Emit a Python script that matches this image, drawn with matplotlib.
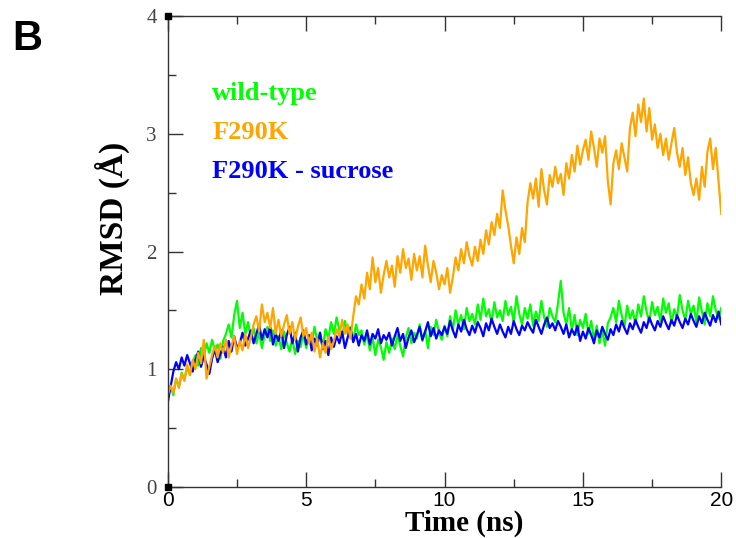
import numpy as np
import matplotlib
matplotlib.use("Agg")
import matplotlib.pyplot as plt
from matplotlib.ticker import MultipleLocator

# time axis, 0.1 ns steps
time_ns = np.round(np.arange(0, 201) * 0.1, 1)

wild_type = [
    0.80, 0.86, 0.78, 0.92, 0.85, 0.97, 0.91, 1.02, 0.95, 1.06,
    1.12, 1.03, 1.18, 1.10, 1.22, 1.14, 1.25, 1.16, 1.21, 1.09,
    1.24, 1.30, 1.38, 1.27, 1.46, 1.58, 1.35, 1.48, 1.30, 1.40,
    1.26, 1.35, 1.22, 1.31, 1.18, 1.29, 1.36, 1.24, 1.33, 1.20,
    1.28, 1.17, 1.32, 1.22, 1.15, 1.26, 1.13, 1.24, 1.19, 1.30,
    1.18, 1.27, 1.21, 1.36, 1.24, 1.31, 1.19, 1.34, 1.26, 1.40,
    1.30, 1.44, 1.33, 1.27, 1.41, 1.30, 1.36, 1.24, 1.38, 1.29,
    1.33, 1.21, 1.30, 1.16, 1.27, 1.12, 1.25, 1.19, 1.08, 1.23,
    1.14, 1.26, 1.17, 1.29, 1.20, 1.11, 1.27, 1.35, 1.22, 1.31,
    1.26, 1.38, 1.24, 1.33, 1.18, 1.36, 1.29, 1.42, 1.31, 1.25,
    1.37, 1.28, 1.45, 1.33, 1.50, 1.38, 1.46, 1.34, 1.52, 1.41,
    1.47, 1.38, 1.55, 1.42, 1.60, 1.45, 1.51, 1.39, 1.57, 1.44,
    1.50, 1.41, 1.58, 1.46, 1.53, 1.40, 1.62, 1.47, 1.38, 1.52,
    1.43, 1.55, 1.37, 1.49, 1.41, 1.58, 1.44, 1.36, 1.52, 1.45,
    1.40, 1.56, 1.75, 1.48, 1.38, 1.52, 1.33, 1.46, 1.29, 1.42,
    1.35, 1.47, 1.30, 1.41, 1.25, 1.37, 1.22, 1.33, 1.20, 1.39,
    1.44, 1.52, 1.40, 1.58, 1.46, 1.36, 1.54, 1.43, 1.50, 1.38,
    1.55, 1.45, 1.62, 1.49, 1.40, 1.57, 1.46, 1.53, 1.41, 1.60,
    1.48, 1.56, 1.39, 1.51, 1.44, 1.63, 1.50, 1.42, 1.58, 1.47,
    1.54, 1.40, 1.61, 1.49, 1.38, 1.56, 1.45, 1.62, 1.50, 1.43,
    1.52,
]

f290k_sucrose = [
    0.72, 0.85, 0.98, 1.06, 1.00, 1.10, 1.03, 1.12, 1.05, 0.98,
    1.08, 1.15, 1.02, 1.11, 1.04, 0.96, 1.09, 1.17, 1.06, 1.13,
    1.19, 1.10, 1.24, 1.15, 1.28, 1.18, 1.22, 1.31, 1.20, 1.26,
    1.33, 1.22, 1.30, 1.38, 1.25, 1.34, 1.27, 1.36, 1.21, 1.30,
    1.24, 1.33, 1.18, 1.29, 1.36, 1.22, 1.31, 1.15, 1.27, 1.33,
    1.21, 1.29, 1.16, 1.26, 1.20, 1.31, 1.17, 1.24, 1.12, 1.27,
    1.19, 1.28, 1.22, 1.32, 1.18, 1.27, 1.35, 1.23, 1.30, 1.20,
    1.29, 1.24, 1.33, 1.21, 1.30, 1.26, 1.34, 1.22, 1.29, 1.25,
    1.31, 1.20, 1.28, 1.35, 1.24, 1.30, 1.18, 1.27, 1.33, 1.23,
    1.29, 1.36, 1.25, 1.32, 1.40, 1.28, 1.35, 1.26, 1.33, 1.29,
    1.36, 1.30, 1.41, 1.33, 1.27, 1.38, 1.32, 1.42, 1.34, 1.29,
    1.37, 1.31, 1.40, 1.35, 1.28, 1.39, 1.33, 1.43, 1.36, 1.30,
    1.38, 1.32, 1.27, 1.36, 1.30, 1.41, 1.34, 1.29, 1.37, 1.33,
    1.40, 1.35, 1.31, 1.42, 1.36, 1.30, 1.38, 1.44, 1.35, 1.39,
    1.33, 1.41, 1.36, 1.30, 1.38, 1.27, 1.34, 1.29, 1.37, 1.24,
    1.32, 1.26, 1.35, 1.29, 1.22, 1.33, 1.27, 1.36, 1.30, 1.25,
    1.34, 1.29, 1.38, 1.32, 1.41, 1.35, 1.30, 1.39, 1.34, 1.42,
    1.36, 1.31, 1.40, 1.35, 1.44, 1.38, 1.33, 1.41, 1.36, 1.45,
    1.39, 1.34, 1.42, 1.37, 1.46, 1.40, 1.35, 1.43, 1.38, 1.47,
    1.41, 1.36, 1.45, 1.39, 1.48, 1.42, 1.37, 1.46, 1.40, 1.49,
    1.38,
]

f290k = [
    0.78, 0.86, 0.80, 0.92, 0.84, 0.96, 0.90, 1.04, 0.95, 1.08,
    1.00, 1.14, 1.05, 1.25, 0.92, 1.02, 1.12, 1.20, 1.10, 1.22,
    1.14, 1.25, 1.10, 1.20, 1.28, 1.13, 1.24, 1.16, 1.30, 1.18,
    1.27, 1.38, 1.45, 1.32, 1.55, 1.40, 1.48, 1.35, 1.52, 1.30,
    1.42, 1.28, 1.38, 1.46, 1.30, 1.40, 1.25, 1.36, 1.44, 1.28,
    1.35, 1.22, 1.31, 1.15, 1.26, 1.10, 1.22, 1.14, 1.28, 1.17,
    1.24, 1.34, 1.28, 1.42, 1.30, 1.38, 1.26, 1.45, 1.62, 1.55,
    1.72, 1.60, 1.82, 1.68, 1.95, 1.74, 1.86, 1.65, 1.80, 1.92,
    1.78, 1.88, 1.70, 1.96, 1.82, 2.02, 1.86, 1.94, 1.76, 1.98,
    1.84, 1.96, 1.78, 2.05, 1.88, 1.74, 1.92, 1.82, 1.68, 1.80,
    1.72, 1.86, 1.65, 1.78, 1.95, 1.84, 2.02, 1.90, 2.08, 1.96,
    1.88, 2.04, 1.92, 2.10, 1.98, 2.18, 2.06, 2.25, 2.14, 2.32,
    2.20, 2.52, 2.35, 2.22, 2.05, 1.90, 2.12, 1.98, 2.20, 2.08,
    2.42, 2.58, 2.45, 2.62, 2.38, 2.70, 2.52, 2.40, 2.65, 2.55,
    2.72, 2.58, 2.66, 2.48, 2.75, 2.62, 2.82, 2.68, 2.90, 2.74,
    2.86, 2.95, 2.78, 3.02, 2.88, 2.72, 2.96, 2.84, 2.98, 2.60,
    2.40, 2.75, 2.86, 2.70, 2.92, 2.80, 2.68, 3.05, 3.18, 2.98,
    3.25, 3.10, 3.30, 3.02, 3.22, 2.95, 3.08, 2.88, 3.00, 2.82,
    2.96, 2.78, 2.92, 3.05, 2.84, 2.72, 2.88, 2.65, 2.80, 2.58,
    2.48, 2.62, 2.44, 2.72, 2.55, 2.85, 2.96, 2.70, 2.88, 2.60,
    2.32,
]

series_names = ["wild-type", "F290K", "F290K - sucrose"]
series_colors = ["#00ff00", "#ffa500", "#0000ff"]

serif = ["Liberation Serif", "DejaVu Serif"]
sans = ["Liberation Sans", "DejaVu Sans"]

fig = plt.figure(figsize=(7.36, 5.38), dpi=100)
ax = fig.add_axes([0.228, 0.095, 0.752, 0.875])

ax.plot(time_ns, wild_type, color=series_colors[0], lw=1.6)
ax.plot(time_ns, f290k_sucrose, color=series_colors[2], lw=1.6)
ax.plot(time_ns, f290k, color=series_colors[1], lw=1.6)

# grace-style corner squares
ax.plot([0, 0], [0, 4], ls="none", marker="s", ms=5, color="black", clip_on=False, zorder=5)

ax.set_xlim(0, 20)
ax.set_ylim(0, 4)
ax.spines["right"].set_visible(False)
for s in ["left", "top", "bottom"]:
    ax.spines[s].set_color("#333333")
    ax.spines[s].set_linewidth(1.0)

ax.xaxis.set_major_locator(MultipleLocator(5))
ax.xaxis.set_minor_locator(MultipleLocator(2.5))
ax.yaxis.set_major_locator(MultipleLocator(1))
ax.yaxis.set_minor_locator(MultipleLocator(0.5))
ax.tick_params(axis="x", which="both", direction="in", top=True, bottom=True, colors="#333333")
ax.tick_params(axis="y", which="both", direction="in", left=True, right=False, colors="#333333")
ax.tick_params(which="major", length=11, width=1.0)
ax.tick_params(which="minor", length=6, width=1.0)
ax.tick_params(axis="x", which="major", pad=3, labelcolor="black")
ax.tick_params(axis="y", which="major", pad=8, labelcolor="#444444")

for lab in ax.get_xticklabels():
    lab.set_family(sans)
    lab.set_fontsize(15)
for lab in ax.get_yticklabels():
    lab.set_family(serif)
    lab.set_fontsize(15)

ax.set_xlabel("Time (ns)", family=serif, fontweight="bold", fontsize=21, labelpad=0)
ax.xaxis.set_label_coords(0.535, -0.048)
ax.xaxis.label.set_va("top")
ax.set_ylabel("RMSD (Å)", family=serif, fontweight="bold", fontsize=24)
ax.yaxis.set_label_coords(-0.068, 0.57)

label_y = [0.836, 0.752, 0.669]
for name, col, yy in zip(series_names, series_colors, label_y):
    ax.text(0.08, yy, name, transform=ax.transAxes, color=col, family=serif,
            fontweight="bold", fontsize=19, va="center", ha="left")

fig.text(0.016, 0.965, "B", family=sans, fontweight="bold", fontsize=30, va="top", ha="left")

fig.savefig("out.png", dpi=100)
